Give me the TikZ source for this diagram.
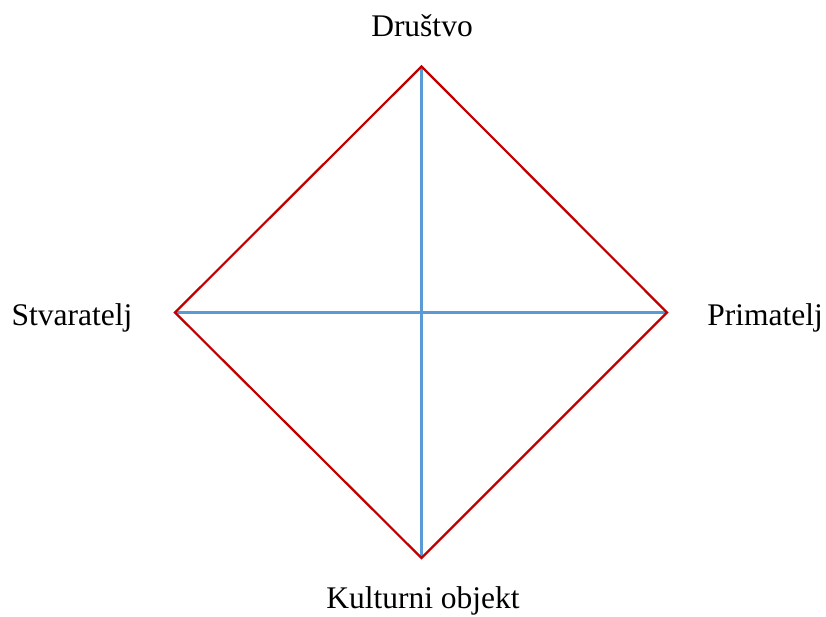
\documentclass[tikz,border=0pt]{standalone}
\usepackage{fontspec}
\setmainfont{Liberation Serif}
\definecolor{dred}{HTML}{C00000}
\definecolor{lblue}{HTML}{5B9BD5}
\begin{document}
\begin{tikzpicture}[x=1pt,y=-1pt,
  lbl/.style={font=\fontsize{31.5}{36}\selectfont, anchor=base, inner sep=0pt},
  edge/.style={draw=dred, line width=2.2pt, line join=miter},
  axis/.style={draw=lblue, line width=2.2pt}]
\useasboundingbox (0,0) rectangle (826,617);
\coordinate (T) at (421.5,66.5);
\coordinate (L) at (175,312.5);
\coordinate (R) at (667,312.5);
\coordinate (B) at (421.5,558);
\draw[axis] (L) -- (R);
\draw[axis] (T) -- (B);
\draw[edge] (T) -- (R) -- (B) -- (L) -- cycle;
\node[lbl] (dr) at (422,37) {Društvo};
\node[lbl] (st) at (72,325) {Stvaratelj};
\node[lbl] (pr) at (765,325) {Primatelj};
\node[lbl] (ko) at (423,608.5) {Kulturni objekt};
\end{tikzpicture}
\end{document}
